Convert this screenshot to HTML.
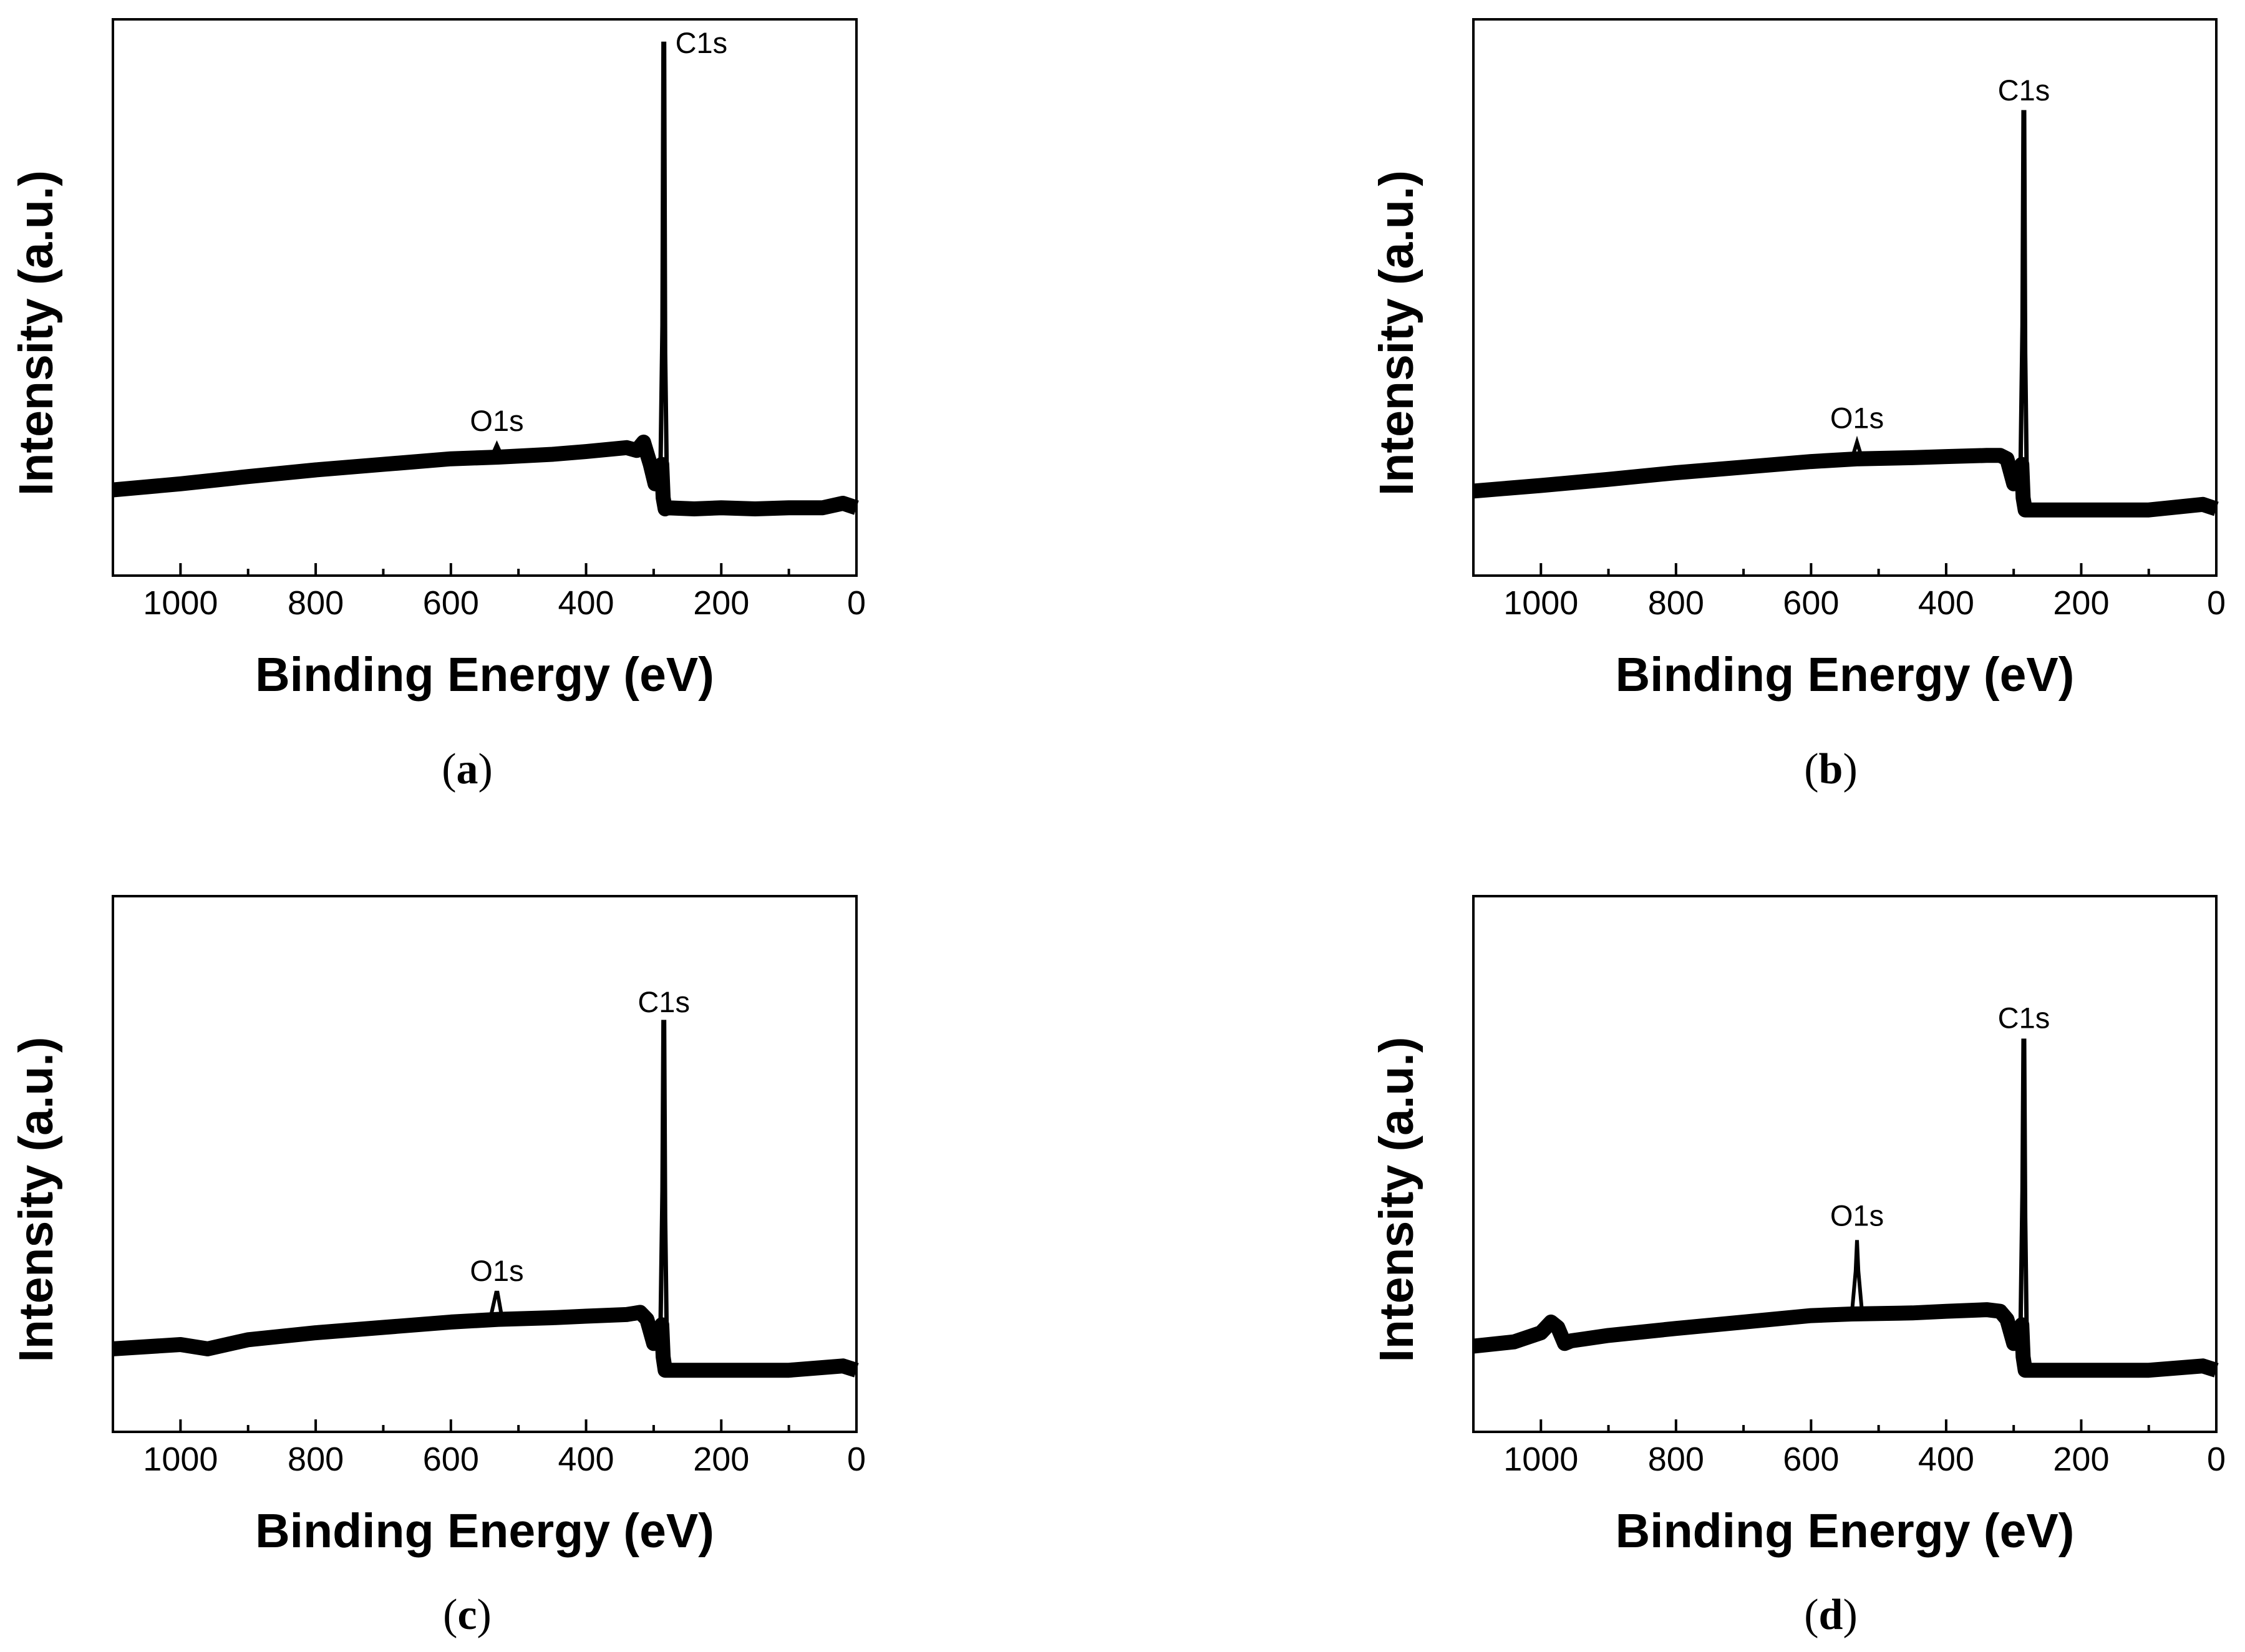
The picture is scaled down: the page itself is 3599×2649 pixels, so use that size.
<!DOCTYPE html>
<html><head><meta charset="utf-8">
<style>
html,body{margin:0;padding:0;background:#fff;}
svg{display:block;}
text{font-family:"Liberation Sans",Arial,sans-serif;fill:#000;}
.serif{font-family:"Liberation Serif",serif;}
</style></head>
<body>
<svg id="fig" width="3599" height="2649" viewBox="0 0 3599 2649" xmlns="http://www.w3.org/2000/svg"></svg>
<script>
// Tick values (eV)
const majorTicks = [1000, 800, 600, 400, 200, 0];
const minorTicks = [1100, 900, 700, 500, 300, 100];
// Panel (a) data: energies (eV) and intensity (a.u., 0-100 of axis)
const aBaseE = [1100, 1000, 900, 800, 700, 600, 530, 450, 400, 340, 325, 315, 305, 298, 292, 288, 286, 283, 280, 240, 200, 150, 100, 50, 20, 0];
const aBaseI = [15.4, 16.5, 17.8, 19, 20, 21, 21.3, 21.8, 22.3, 23, 22.5, 24, 20, 16.5, 17.5, 20, 14, 12, 12.2, 12, 12.2, 12, 12.2, 12.2, 13, 12.2];
const aPeakE = [290, 287, 285.5, 284.5, 283, 280];
const aPeakI = [18, 45, 95.6, 95.6, 40, 12.5];
const aO1sE = [540, 532, 524];
const aO1sI = [21.3, 23.5, 21.3];
// Panel (b)
const bBaseE = [1100, 1000, 900, 800, 700, 600, 530, 450, 400, 340, 320, 310, 300, 294, 288, 286, 283, 280, 200, 100, 20, 0];
const bBaseI = [15.2, 16.2, 17.3, 18.5, 19.5, 20.5, 21, 21.2, 21.4, 21.6, 21.6, 21, 16.5, 17.5, 20, 14, 11.8, 11.8, 11.8, 11.8, 12.8, 12];
const bPeakE = [290, 287, 285.5, 284.5, 283, 280];
const bPeakI = [18, 45, 83.3, 83.3, 40, 12];
const bO1sE = [540, 532, 524];
const bO1sI = [20.8, 24, 20.8];
// Panel (c)
const cBaseE = [1100, 1000, 960, 900, 800, 700, 600, 530, 450, 400, 340, 320, 310, 300, 294, 288, 286, 283, 280, 200, 100, 20, 0];
const cBaseI = [15.5, 16.3, 15.5, 17.2, 18.5, 19.5, 20.5, 21, 21.3, 21.6, 21.9, 22.3, 21, 16.5, 17.5, 20, 14, 11.5, 11.5, 11.5, 11.5, 12.3, 11.5];
const cPeakE = [290, 287, 285.5, 284.5, 283, 280];
const cPeakI = [18, 45, 76.5, 76.5, 40, 11.5];
const cO1sE = [542, 533, 531, 524];
const cO1sI = [21, 26, 26, 21];
// Panel (d)
const dBaseE = [1100, 1040, 1000, 985, 975, 965, 955, 900, 800, 700, 600, 540, 450, 400, 340, 320, 310, 300, 294, 288, 286, 283, 280, 200, 100, 20, 0];
const dBaseI = [16, 16.8, 18.5, 20.5, 19.5, 16.5, 17, 18, 19.3, 20.5, 21.7, 22, 22.2, 22.5, 22.8, 22.5, 21, 16.5, 17.5, 20, 14, 11.5, 11.5, 11.5, 11.5, 12.3, 11.5];
const dPeakE = [290, 287, 285.5, 284.5, 283, 280];
const dPeakI = [18, 45, 73, 73, 40, 11.5];
const dO1sE = [540, 534, 532, 530, 524];
const dO1sI = [21.5, 30, 35.8, 30, 21.5];
// Annotation label positions per panel (energy, intensity)
const c1sLabel = [[268, 95.5], [285, 87], [285, 80], [285, 77]];
const o1sLabel = [[532, 26], [532, 26.5], [532, 28.2], [532, 38.5]];

const panels = [
  {id:'a', box:[181,31,1373,923], base:[aBaseE,aBaseI], peak:[aPeakE,aPeakI], o1s:[aO1sE,aO1sI], c1sAnchor:'start', letterX:749, letterY:1256},
  {id:'b', box:[2362,31,3553,923], base:[bBaseE,bBaseI], peak:[bPeakE,bPeakI], o1s:[bO1sE,bO1sI], c1sAnchor:'middle', letterX:2935, letterY:1256},
  {id:'c', box:[181,1437,1373,2296], base:[cBaseE,cBaseI], peak:[cPeakE,cPeakI], o1s:[cO1sE,cO1sI], c1sAnchor:'middle', letterX:749, letterY:2612},
  {id:'d', box:[2362,1437,3553,2296], base:[dBaseE,dBaseI], peak:[dPeakE,dPeakI], o1s:[dO1sE,dO1sI], c1sAnchor:'middle', letterX:2935, letterY:2612}
];
const NS = 'http://www.w3.org/2000/svg';
const svg = document.getElementById('fig');
function mk(tag, attrs, parent){ const e=document.createElementNS(NS,tag); for(const k in attrs) e.setAttribute(k,attrs[k]); parent.appendChild(e); return e; }

panels.forEach((p, pi) => {
  const [x0,y0,x1,y1] = p.box;
  const xs = e => x1 - (e/1100)*(x1-x0);
  const ys = v => y1 - (v/100)*(y1-y0);
  const g = mk('g', {}, svg);
  
  
  const line = (E, I) => E.map((e,i)=> (i?'L':'M') + xs(e).toFixed(1) + ',' + ys(I[i]).toFixed(1)).join(' ');
  const band = mk('path', {d: line(p.base[0], p.base[1]), fill:'none', stroke:'#000', 'stroke-width':24, 'stroke-linejoin':'round'}, g);
  
  
  const pk = mk('path', {d: line(p.peak[0], p.peak[1]), fill:'none', stroke:'#000', 'stroke-width':7}, g);
  
  
  const op = mk('path', {d: line(p.o1s[0], p.o1s[1]), fill:'none', stroke:'#000', 'stroke-width':6}, g);
  
  
  const fr = mk('rect', {x:x0, y:y0, width:x1-x0, height:y1-y0, fill:'none', stroke:'#000', 'stroke-width':4}, g);
  
  
  majorTicks.forEach(t => {
    const tl = mk('line', {x1:xs(t), x2:xs(t), y1:y1, y2:y1-20, stroke:'#000', 'stroke-width':4}, g);
    
    
    const lb = mk('text', {x:xs(t), y:y1+62, 'text-anchor':'middle', 'font-size':54}, g);
    lb.textContent = String(t);
    
    
  });
  minorTicks.forEach(t => {
    const tl = mk('line', {x1:xs(t), x2:xs(t), y1:y1, y2:y1-11, stroke:'#000', 'stroke-width':4}, g);
    
    
  });
  const xt = mk('text', {x:(x0+x1)/2, y:y1+185, 'text-anchor':'middle', 'font-size':77, 'font-weight':'bold'}, g);
  xt.textContent = 'Binding Energy (eV)';
  
  
  const yx = x0 - 123, yy = (y0+y1)/2 + 57;
  const yt = mk('text', {x:yx, y:yy, 'text-anchor':'middle', 'font-size':77, 'font-weight':'bold', transform:`rotate(-90 ${yx} ${yy})`}, g);
  yt.setAttribute('dominant-baseline','central');
  yt.textContent = 'Intensity (a.u.)';
  
  
  const c1 = c1sLabel[pi];
  const cl = mk('text', {x:xs(c1[0]), y:ys(c1[1]) + 14, 'text-anchor':p.c1sAnchor, 'font-size':47}, g);
  cl.textContent = 'C1s';
  
  
  const o1 = o1sLabel[pi];
  const ol = mk('text', {x:xs(o1[0]), y:ys(o1[1]), 'text-anchor':'middle', 'font-size':47}, g);
  ol.textContent = 'O1s';
  
  
  const lt = mk('text', {x:p.letterX, y:p.letterY, 'text-anchor':'middle', 'font-size':70, class:'serif'}, g);
  lt.innerHTML = '(<tspan font-weight="bold">' + p.id + '</tspan>)';
  
  
});
</script>
</body></html>
